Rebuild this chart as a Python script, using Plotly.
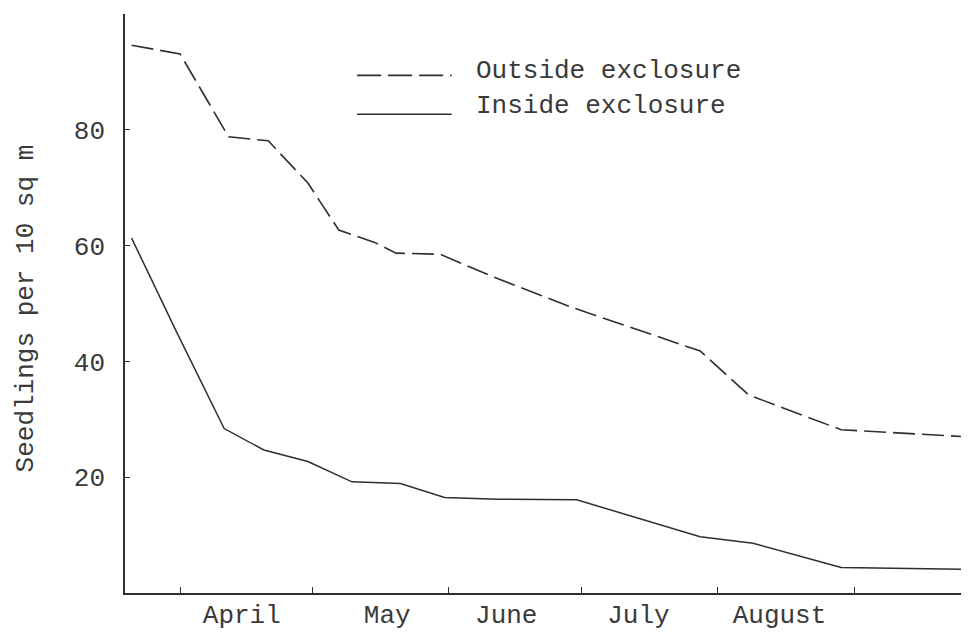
import plotly.graph_objects as go

# =========================================================================================================================
# Data (seedlings per 10 sq m through the season)
outside_dates = ["1950-03-21", "1950-04-01", "1950-04-12", "1950-04-21", "1950-04-30", "1950-05-07", "1950-05-15",
                 "1950-05-20", "1950-05-30", "1950-06-12", "1950-06-29", "1950-07-28", "1950-08-08", "1950-08-29",
                 "1950-09-26"]
outside_vals = [94.6, 93.1, 78.8, 78.1, 70.8, 62.7, 60.6, 58.7, 58.5, 54.3, 49.3, 41.8, 34.2, 28.2, 27.0]

inside_dates = ["1950-03-21", "1950-03-31", "1950-04-11", "1950-04-20", "1950-04-30", "1950-05-10", "1950-05-21",
                "1950-05-31", "1950-06-12", "1950-06-30", "1950-07-28", "1950-08-09", "1950-08-29", "1950-09-26"]
inside_vals = [61.3, 45.4, 28.4, 24.7, 22.7, 19.2, 18.9, 16.5, 16.2, 16.1, 9.7, 8.6, 4.4, 4.1]

month_labels = ["April", "May", "June", "July", "August"]
month_label_dates = ["1950-04-15", "1950-05-18", "1950-06-14", "1950-07-14", "1950-08-15"]

y_ticks = [20, 40, 60, 80, 100]
y_ticktext = ["20", "40", "60", "80", ""]

# =========================================================================================================================
# Styling
FONT = "Liberation Mono, Courier New, monospace"
INK = "#2e2e2e"
TEXT = "#3a3a3a"

fig = go.Figure()

fig.add_trace(go.Scatter(x = outside_dates, y = outside_vals, mode = "lines", name = "Outside exclosure",
                         line = dict(color = INK, width = 1.6, dash = "22px,7px")))
fig.add_trace(go.Scatter(x = inside_dates, y = inside_vals, mode = "lines", name = "Inside exclosure",
                         line = dict(color = INK, width = 1.5)))

# page body keeps its 8px default margin, so the figure is sized to fit inside the window without scrolling
fig.update_layout(
    width = 961, height = 622,
    margin = dict(l = 117, r = 0, t = 6, b = 37, autoexpand = False),
    paper_bgcolor = "white", plot_bgcolor = "white",
    showlegend = False,
    font = dict(family = FONT, size = 26, color = TEXT),
)

fig.update_xaxes(
    type = "date",
    range = ["1950-03-19 12:00", "1950-09-27"],
    automargin = False,
    showgrid = False, zeroline = False,
    showline = True, linecolor = INK, linewidth = 1.6,
    tickvals = month_label_dates, ticktext = month_labels,
    ticks = "", ticklabelstandoff = -3,
    minor = dict(ticks = "inside", ticklen = 6, tickwidth = 1.2, tickcolor = INK,
                 dtick = "M1", tick0 = "1950-04-01", showgrid = False),
)

fig.update_yaxes(
    range = [0, 100],
    automargin = False,
    showgrid = False, zeroline = False,
    showline = True, linecolor = INK, linewidth = 1.6,
    tickvals = y_ticks, ticktext = y_ticktext,
    ticks = "inside", ticklen = 5, tickwidth = 1.2, tickcolor = INK,
    ticklabelstandoff = 13,
)

# Hand-drawn style legend (long line samples, as typed on the original)
fig.add_shape(type = "line", xref = "paper", yref = "paper", x0 = 0.275, x1 = 0.387, y0 = 0.894, y1 = 0.894,
              line = dict(color = INK, width = 1.6, dash = "24px,7px"))
fig.add_shape(type = "line", xref = "paper", yref = "paper", x0 = 0.275, x1 = 0.387, y0 = 0.827, y1 = 0.827,
              line = dict(color = INK, width = 1.5))
fig.add_annotation(text = "Outside exclosure", xref = "paper", yref = "paper", x = 0.414, y = 0.901,
                   xanchor = "left", yanchor = "middle", showarrow = False)
fig.add_annotation(text = "Inside exclosure", xref = "paper", yref = "paper", x = 0.414, y = 0.841,
                   xanchor = "left", yanchor = "middle", showarrow = False)

# Axis title
fig.add_annotation(text = "Seedlings per 10 sq m", xref = "paper", yref = "paper", x = -0.117, y = 0.492,
                   xanchor = "center", yanchor = "middle", textangle = -90, showarrow = False)

fig.write_html("out.html")
